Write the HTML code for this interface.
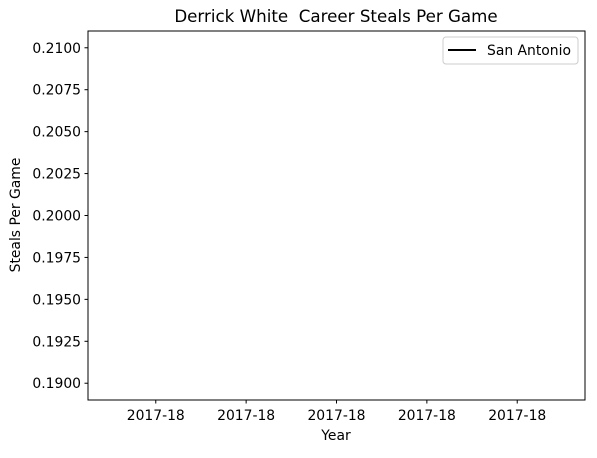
<!DOCTYPE html>
<html><head><meta charset="utf-8"><style>
body{margin:0;background:#fff;}
svg text{font-family:"DejaVu Sans","Liberation Sans",sans-serif;fill:#000;white-space:pre;}
</style></head><body>
<svg id="chart" width="597" height="453" viewBox="0 0 597 453" xmlns="http://www.w3.org/2000/svg">
<rect width="597" height="453" fill="#fff"/>
<text x="336" y="22" font-size="16.7" text-anchor="middle" xml:space="preserve">Derrick White  Career Steals Per Game</text>
<g id="plot"></g>
<rect x="88" y="31" width="497" height="369" fill="none" stroke="#000" stroke-width="1"/>
<text x="336" y="440" font-size="13.9" text-anchor="middle">Year</text>
<text transform="translate(20,215) rotate(-90)" font-size="13.9" text-anchor="middle">Steals Per Game</text>
<g>
<rect x="443" y="37" width="135" height="27" rx="3" fill="#fff" stroke="#ccc" stroke-width="1"/>
<line x1="448" y1="50" x2="476" y2="50" stroke="#000" stroke-width="2"/>
<text x="487" y="55" font-size="13.9">San Antonio</text>
</g>
</svg>
<script>
const years = ["2017-18"];
const steals = [0.2];
const yTicks = [0.19, 0.1925, 0.195, 0.1975, 0.2, 0.2025, 0.205, 0.2075, 0.21];
const xTickVals = [-0.04, -0.02, 0, 0.02, 0.04];
const xTickLabels = ["2017-18","2017-18","2017-18","2017-18","2017-18"];
const L=88,R=585,T=31,B=400;
const y=v=>B-(v-0.189)/(0.211-0.189)*(B-T);
const x=v=>L+(v+0.055)/0.11*(R-L);
const g=document.getElementById('plot');
const NS="http://www.w3.org/2000/svg";
function mk(t,a){const e=document.createElementNS(NS,t);for(const k in a)e.setAttribute(k,a[k]);g.appendChild(e);return e;}
yTicks.forEach(v=>{
 const tk=mk('line',{x1:L-3.5,x2:L,y1:y(v),y2:y(v),stroke:'#000'});
 
 
 const t=mk('text',{x:L-7,y:y(v)+5,'font-size':13.9,'text-anchor':'end'});
 t.textContent=v.toFixed(4);
 
 
});
xTickVals.forEach((v,i)=>{
 const tk=mk('line',{x1:x(v),x2:x(v),y1:B,y2:B+3.5,stroke:'#000'});
 
 
 const t=mk('text',{x:x(v),y:B+20,'font-size':13.9,'text-anchor':'middle'});
 t.textContent=xTickLabels[i];
 
 
});
const pts=steals.map((s,i)=>x(i)+','+y(s)).join(' ');
const pl=mk('polyline',{points:pts,fill:'none',stroke:'#000','stroke-width':2});


</script>
</body></html>
